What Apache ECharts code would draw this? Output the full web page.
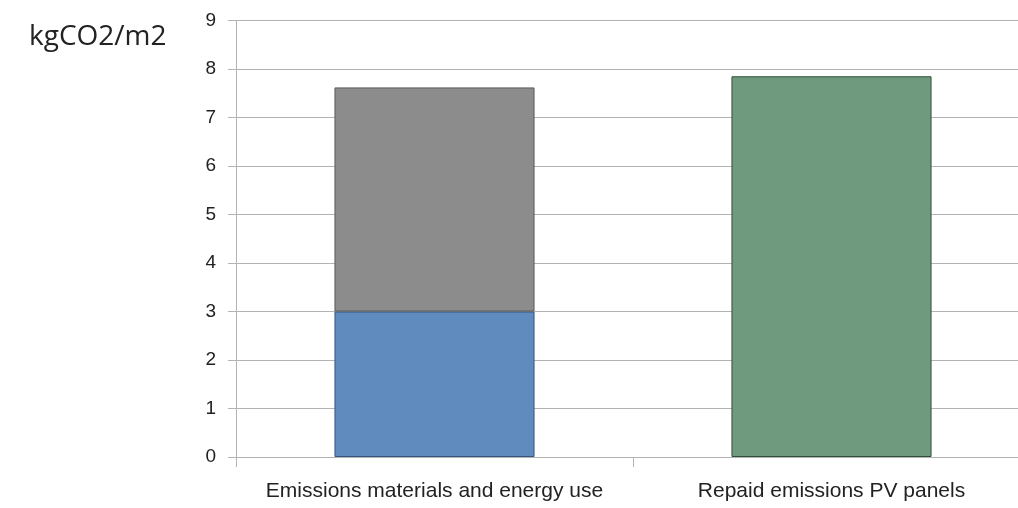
<!DOCTYPE html>
<html><head><meta charset="utf-8">
<script src="https://cdn.jsdelivr.net/npm/echarts@6/dist/echarts.min.js"></script>
<style>html,body{margin:0;padding:0;background:#fff;overflow:hidden}#c{width:1030px;height:508px}</style>
</head><body><div id="c"></div>
<script>
const categories = ['Emissions materials and energy use', 'Repaid emissions PV panels'];
const materialsEmissions = [3.0, null];
const energyEmissions = [4.62, null];
const repaidPV = [null, 7.85];
const yTicks = [0, 1, 2, 3, 4, 5, 6, 7, 8, 9];
const unitLabel = 'kgCO2/m2';

const chart = echarts.init(document.getElementById('c'));
chart.setOption({
  animation: false,
  title: { text: unitLabel, left: 24, top: 18, textStyle: { fontFamily: 'Open Sans', fontSize: 28, fontWeight: 'normal', color: '#222' } },
  grid: { left: 236, right: 0, top: 20.5, bottom: 51 },
  xAxis: {
    type: 'category', data: categories,
    axisLine: { lineStyle: { color: '#b3b3b3', width: 1 } },
    axisTick: { show: true, length: 10, interval: 0, lineStyle: { color: '#b3b3b3' } },
    axisLabel: { interval: 0, margin: 24, fontFamily: 'Liberation Sans', fontSize: 21, color: '#222' }
  },
  yAxis: {
    type: 'value', min: yTicks[0], max: yTicks[yTicks.length - 1], interval: 1,
    axisLine: { show: true, lineStyle: { color: '#b3b3b3' } },
    axisTick: { show: true, length: 8, lineStyle: { color: '#b3b3b3' } },
    splitLine: { lineStyle: { color: '#b3b3b3' } },
    axisLabel: { margin: 20, fontFamily: 'Liberation Sans', fontSize: 19, color: '#222' }
  },
  series: [
    { name: 'materials', type: 'bar', stack: 's', data: materialsEmissions, barWidth: '50.4%',
      itemStyle: { color: '#5f8bbf', borderColor: '#35567e', borderWidth: 1 } },
    { name: 'energy', type: 'bar', stack: 's', data: energyEmissions, barWidth: '50.4%',
      itemStyle: { color: '#8c8c8c', borderColor: '#5a5a5a', borderWidth: 1 } },
    { name: 'pv', type: 'bar', stack: 's', data: repaidPV, barWidth: '50.4%',
      itemStyle: { color: '#6f9a7e', borderColor: '#2f4f3a', borderWidth: 1 } }
  ]
});
</script></body></html>
